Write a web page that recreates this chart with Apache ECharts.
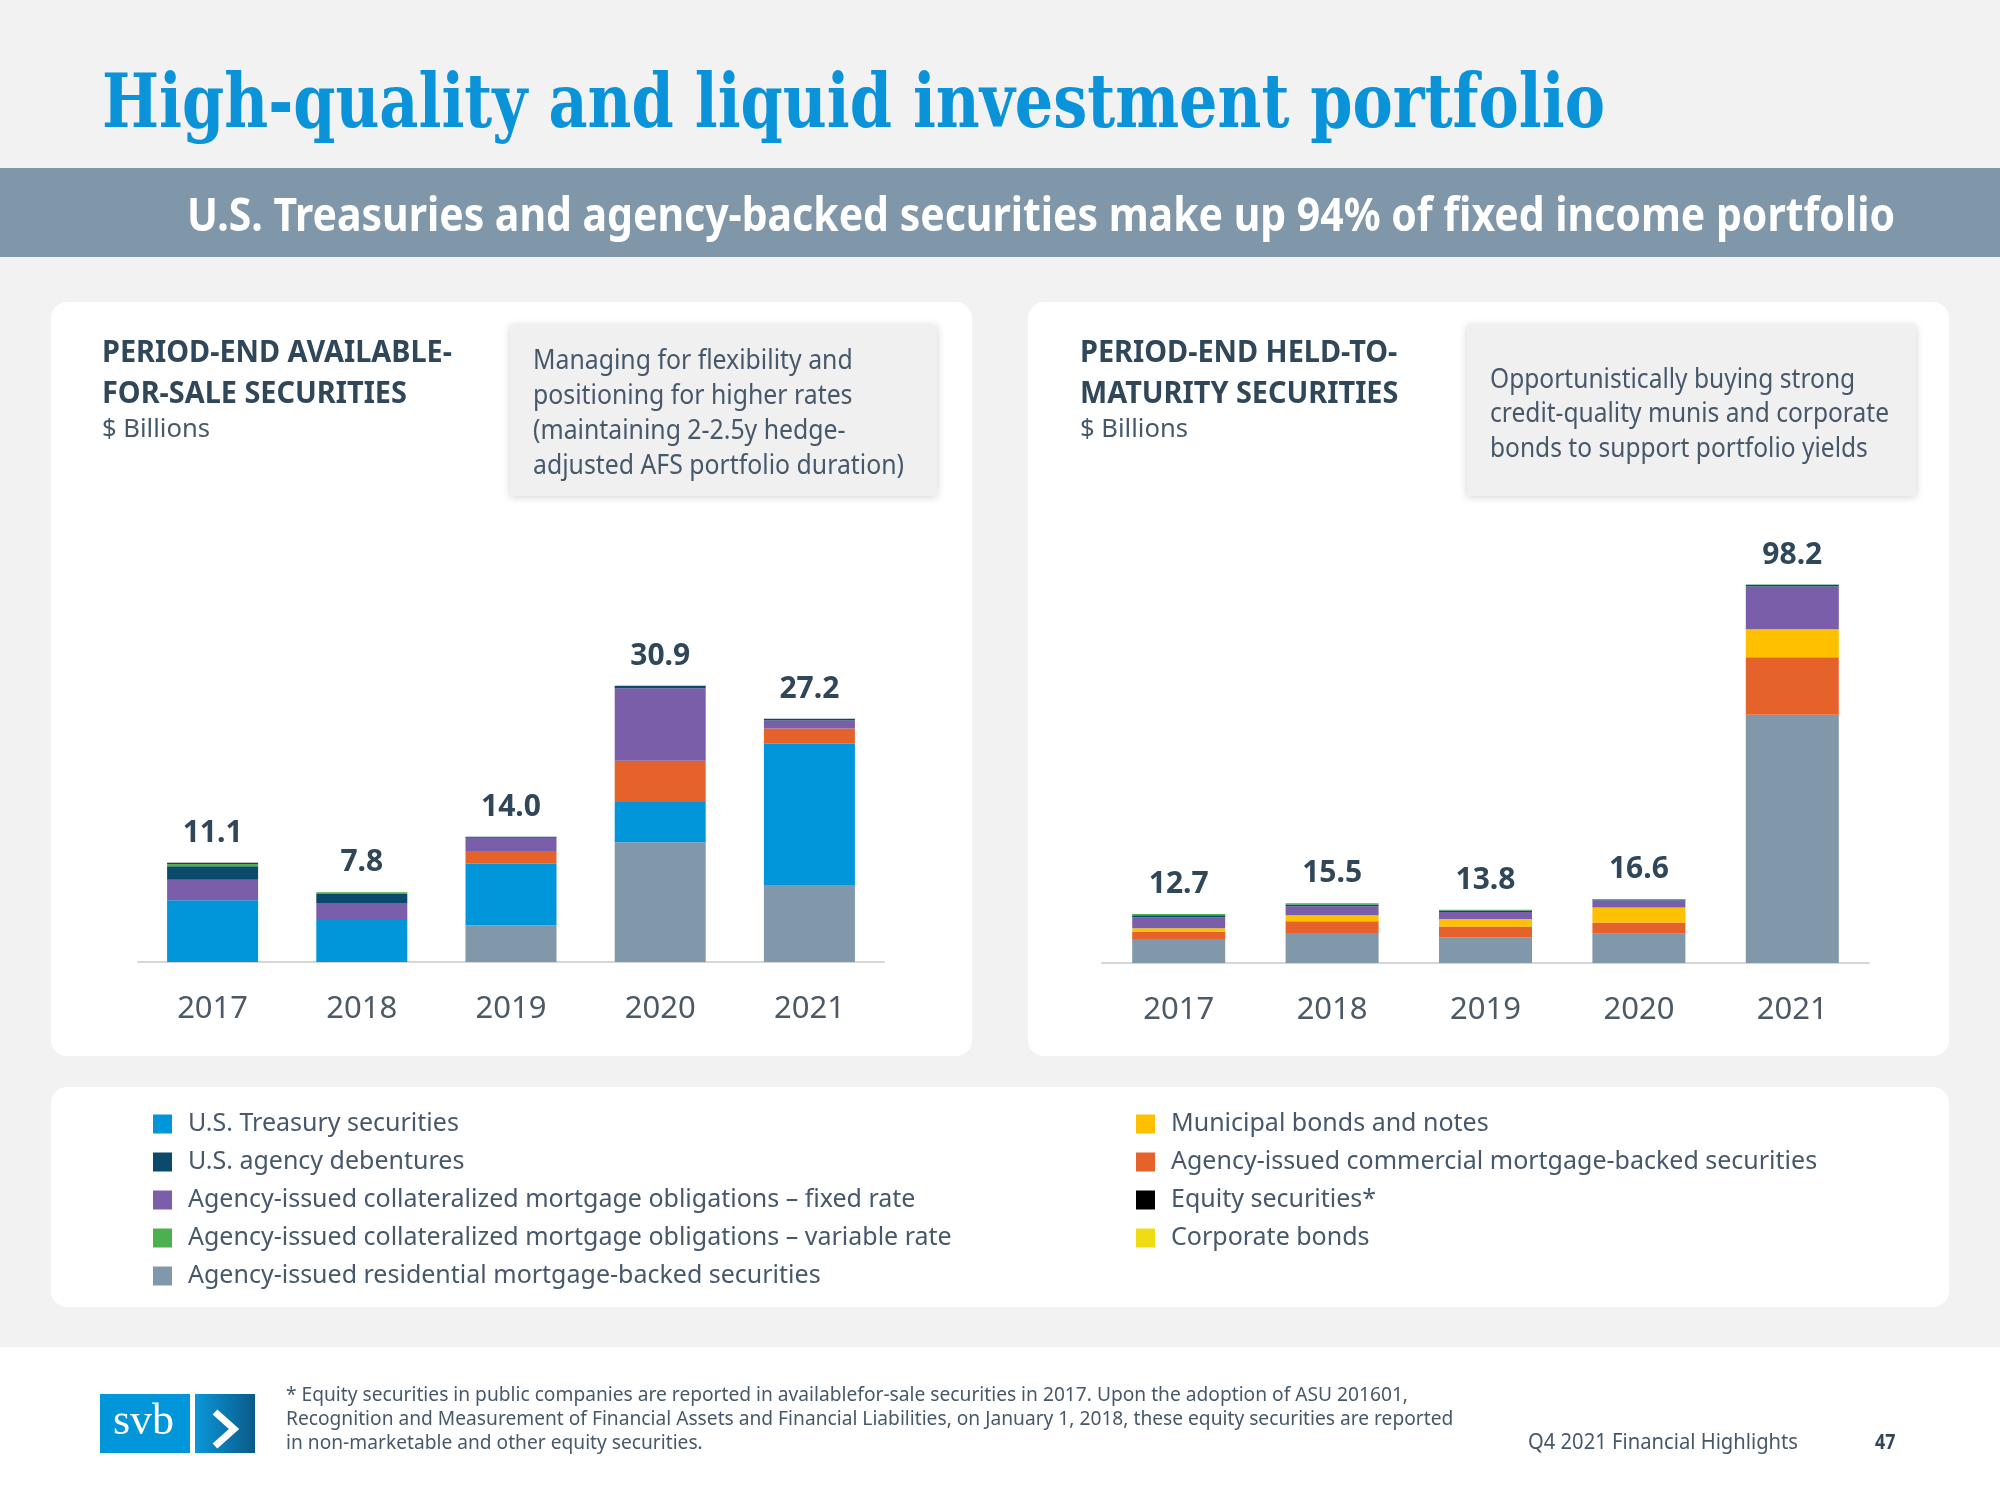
<!DOCTYPE html>
<html><head><meta charset="utf-8">
<script src="https://cdn.jsdelivr.net/npm/echarts@6/dist/echarts.min.js"></script>
<style>html,body{margin:0;padding:0;background:#f2f2f2}#chart{width:2000px;height:1500px}</style>
</head><body><div id="chart"></div>
<script>
// ---------- DATA ----------
const years = ['2017', '2018', '2019', '2020', '2021'];

// Period-end available-for-sale securities ($ billions)
const afsRMBS        = [0, 0, 4.1, 13.4, 8.6];
const afsTreasury    = [6.9, 4.7, 6.9, 4.5, 15.8];
const afsCMBS        = [0, 0, 1.4, 4.6, 1.7];
const afsCMOFixed    = [2.3, 1.9, 1.5, 8.1, 0.9];
const afsDebentures  = [1.5, 1.0, 0.1, 0.3, 0.2];
const afsCMOVariable = [0.3, 0.2, 0, 0, 0];
const afsEquity      = [0.1, 0, 0, 0, 0];
const afsTotals      = [11.1, 7.8, 14.0, 30.9, 27.2];

// Period-end held-to-maturity securities ($ billions)
const htmRMBS        = [6.2, 7.8, 6.7, 7.6, 64.4];
const htmCMBS        = [1.9, 3.0, 2.8, 2.9, 14.9];
const htmMuni        = [0.9, 1.6, 1.9, 3.9, 7.3];
const htmCorporate   = [0, 0, 0, 0, 0];
const htmCMOFixed    = [2.9, 2.3, 1.8, 1.8, 11.1];
const htmDebentures  = [0.5, 0.5, 0.4, 0.3, 0.4];
const htmCMOVariable = [0.3, 0.3, 0.2, 0.1, 0.1];
const htmTotals      = [12.7, 15.5, 13.8, 16.6, 98.2];

const N_TREAS = 'U.S. Treasury securities';
const N_DEB   = 'U.S. agency debentures';
const N_CMOF  = 'Agency-issued collateralized mortgage obligations \u2013 fixed rate';
const N_CMOV  = 'Agency-issued collateralized mortgage obligations \u2013 variable rate';
const N_RMBS  = 'Agency-issued residential mortgage-backed securities';
const N_MUNI  = 'Municipal bonds and notes';
const N_CMBS  = 'Agency-issued commercial mortgage-backed securities';
const N_EQ    = 'Equity securities*';
const N_CORP  = 'Corporate bonds';

// ---------- STYLE ----------
const C = {
  treas: '#0096d9', deb: '#0b4a6a', cmof: '#7b5ea9', cmov: '#4caf50',
  rmbs: '#8197aa', muni: '#ffc000', cmbs: '#e5632a', eq: '#000000', corp: '#f0dc14'
};
const DARK = '#30475a', BODY = '#46586a';

const mctx = document.createElement('canvas').getContext('2d');
function measure(text, font) { mctx.font = font; return mctx.measureText(text).width; }
function fontStr(size, weight, family) { return (weight || 'normal') + ' ' + size + 'px ' + family; }
function sxFor(text, size, weight, family, target) { return target / measure(text, fontStr(size, weight, family)); }
function T(text, x, baseline, size, weight, family, color, sx, mid) {
  const y = baseline - (mid || 0.36) * size;
  return {
    type: 'text', x: x, y: y, scaleX: sx || 1, scaleY: 1, z: 10,
    style: { text: text, x: 0, y: 0, fill: color, fontSize: size, fontWeight: weight || 'normal',
      fontFamily: family, textAlign: 'left', textVerticalAlign: 'middle', verticalAlign: 'middle' }
  };
}
const SANS = 'Noto Sans';

// scale factors
const sxTitle = sxFor('High-quality and liquid investment portfolio', 74, 'bold', 'DejaVu Serif', 1503);
const sxSub = sxFor('U.S. Treasuries and agency-backed securities make up 94% of fixed income portfolio', 46, 'bold', SANS, 1708);
const sxHead = sxFor('PERIOD-END AVAILABLE-', 31, 'bold', SANS, 350);
const sxBill = sxFor('$ Billions', 25, 'normal', SANS, 108);
const sxNoteL = sxFor('adjusted AFS portfolio duration)', 27, 'normal', SANS, 371);
const sxNoteR = sxFor('credit-quality munis and corporate', 27, 'normal', SANS, 399);
const sxFoot = sxFor('* Equity securities in public companies are reported in availablefor-sale securities in 2017. Upon the adoption of ASU 201601,', 20, 'normal', SANS, 1122);
const sxQ4 = sxFor('Q4 2021 Financial Highlights', 21, 'normal', SANS, 270);

const graphics = [
  // header band
  { type: 'rect', z: 0, shape: { x: 0, y: 168, width: 2000, height: 89 }, style: { fill: '#8097aa' } },
  // cards
  { type: 'rect', z: 0, shape: { x: 51, y: 302, width: 921, height: 754, r: 16 }, style: { fill: '#ffffff' } },
  { type: 'rect', z: 0, shape: { x: 1028, y: 302, width: 921, height: 754, r: 16 }, style: { fill: '#ffffff' } },
  { type: 'rect', z: 0, shape: { x: 51, y: 1087, width: 1898, height: 220, r: 16 }, style: { fill: '#ffffff' } },
  // footer band
  { type: 'rect', z: 0, shape: { x: 0, y: 1347, width: 2000, height: 153 }, style: { fill: '#ffffff' } },
  // annotation boxes
  { type: 'rect', z: 1, shape: { x: 510, y: 325, width: 427, height: 171 },
    style: { fill: '#f0f0f0', shadowBlur: 8, shadowColor: 'rgba(0,0,0,0.18)', shadowOffsetY: 1 } },
  { type: 'rect', z: 1, shape: { x: 1467, y: 325, width: 449, height: 171 },
    style: { fill: '#f0f0f0', shadowBlur: 8, shadowColor: 'rgba(0,0,0,0.18)', shadowOffsetY: 1 } },

  T('High-quality and liquid investment portfolio', 102, 134, 74, 'bold', 'DejaVu Serif', '#0a93d8', sxTitle, 0.35),
  T('U.S. Treasuries and agency-backed securities make up 94% of fixed income portfolio', 187, 234, 46, 'bold', SANS, '#ffffff', sxSub),

  T('PERIOD-END AVAILABLE-', 102, 364, 31, 'bold', SANS, DARK, sxHead),
  T('FOR-SALE SECURITIES', 102, 405, 31, 'bold', SANS, DARK, sxHead),
  T('$ Billions', 102, 439, 25, 'normal', SANS, BODY, sxBill),
  T('PERIOD-END HELD-TO-', 1080, 364, 31, 'bold', SANS, DARK, sxHead),
  T('MATURITY SECURITIES', 1080, 405, 31, 'bold', SANS, DARK, sxHead),
  T('$ Billions', 1080, 439, 25, 'normal', SANS, BODY, sxBill),

  T('Managing for flexibility and', 533, 371, 27, 'normal', SANS, BODY, sxNoteL),
  T('positioning for higher rates', 533, 406, 27, 'normal', SANS, BODY, sxNoteL),
  T('(maintaining 2-2.5y hedge-', 533, 441, 27, 'normal', SANS, BODY, sxNoteL),
  T('adjusted AFS portfolio duration)', 533, 476, 27, 'normal', SANS, BODY, sxNoteL),

  T('Opportunistically buying strong', 1490, 390, 27, 'normal', SANS, BODY, sxNoteR),
  T('credit-quality munis and corporate', 1490, 424, 27, 'normal', SANS, BODY, sxNoteR),
  T('bonds to support portfolio yields', 1490, 459, 27, 'normal', SANS, BODY, sxNoteR),

  // logo
  { type: 'rect', z: 5, shape: { x: 100, y: 1394, width: 90, height: 59 }, style: { fill: '#0096d9' } },
  { type: 'rect', z: 5, shape: { x: 195, y: 1394, width: 60, height: 59 },
    style: { fill: new echarts.graphic.LinearGradient(0, 0, 1, 0, [{ offset: 0, color: '#0a97d9' }, { offset: 1, color: '#0a5a88' }]) } },
  { type: 'polyline', z: 6, shape: { points: [[215, 1412], [234, 1429], [215, 1446]] },
    style: { stroke: '#ffffff', lineWidth: 7, fill: null } },
  T('svb', 113, 1437, 44, 'normal', 'Liberation Serif', '#ffffff', 1, 0.34),

  T('* Equity securities in public companies are reported in availablefor-sale securities in 2017. Upon the adoption of ASU 201601,', 286, 1402, 20, 'normal', SANS, BODY, sxFoot),
  T('Recognition and Measurement of Financial Assets and Financial Liabilities, on January 1, 2018, these equity securities are reported', 286, 1426, 20, 'normal', SANS, BODY, sxFoot),
  T('in non-marketable and other equity securities.', 286, 1450, 20, 'normal', SANS, BODY, sxFoot),
  T('Q4 2021 Financial Highlights', 1528, 1451, 21, 'normal', SANS, BODY, sxQ4),
  T('47', 1875, 1451, 21, 'bold', SANS, DARK, 0.85)
];

function bar(name, data, color, idx, width) {
  return {
    type: 'bar', name: name, data: data, stack: 'g' + idx, xAxisIndex: idx, yAxisIndex: idx,
    barWidth: width, itemStyle: { color: color }, z: 3, silent: true
  };
}
function totals(data, idx) {
  return {
    type: 'line', name: 'total' + idx, data: data, xAxisIndex: idx, yAxisIndex: idx,
    symbol: 'circle', symbolSize: 1, itemStyle: { color: 'transparent' },
    lineStyle: { width: 0, opacity: 0 }, silent: true, z: 5,
    label: { show: true, position: 'top', distance: 14, color: DARK, fontFamily: SANS,
      fontWeight: 'bold', fontSize: 30, formatter: p => Number(p.value).toFixed(1) }
  };
}

const axisLabel = { color: '#4b5a66', fontSize: 31, fontFamily: SANS, margin: 32 };
const legendText = { fontSize: 25, color: BODY, fontFamily: SANS, lineHeight: 26, padding: [0, 0, 0, 11] };
const option = {
  backgroundColor: '#f2f2f2',
  animation: false,
  graphic: { elements: graphics },
  grid: [
    { left: 138, width: 746, top: 649, bottom: 538 },
    { left: 1102, width: 767, top: 539, bottom: 537 }
  ],
  xAxis: [0, 1].map(i => ({
    type: 'category', gridIndex: i, data: years,
    axisLine: { lineStyle: { color: '#d6d6d6', width: 2 } }, axisTick: { show: false }, axisLabel: axisLabel
  })),
  yAxis: [
    { type: 'value', gridIndex: 0, min: 0, max: 35, show: false },
    { type: 'value', gridIndex: 1, min: 0, max: 110, show: false }
  ],
  legend: [
    { orient: 'vertical', left: 148, top: 1106, itemWidth: 19, itemHeight: 19, itemGap: 12, icon: 'rect',
      selectedMode: false, data: [N_TREAS, N_DEB, N_CMOF, N_CMOV, N_RMBS], textStyle: legendText },
    { orient: 'vertical', left: 1131, top: 1106, itemWidth: 19, itemHeight: 19, itemGap: 12, icon: 'rect',
      selectedMode: false, data: [N_MUNI, N_CMBS, N_EQ, N_CORP], textStyle: legendText }
  ],
  series: [
    bar(N_RMBS, afsRMBS, C.rmbs, 0, 91),
    bar(N_TREAS, afsTreasury, C.treas, 0, 91),
    bar(N_CMBS, afsCMBS, C.cmbs, 0, 91),
    bar(N_CMOF, afsCMOFixed, C.cmof, 0, 91),
    bar(N_DEB, afsDebentures, C.deb, 0, 91),
    bar(N_CMOV, afsCMOVariable, C.cmov, 0, 91),
    bar(N_EQ, afsEquity, C.eq, 0, 91),
    totals(afsTotals, 0),

    bar(N_RMBS, htmRMBS, C.rmbs, 1, 93),
    bar(N_CMBS, htmCMBS, C.cmbs, 1, 93),
    bar(N_MUNI, htmMuni, C.muni, 1, 93),
    bar(N_CORP, htmCorporate, C.corp, 1, 93),
    bar(N_CMOF, htmCMOFixed, C.cmof, 1, 93),
    bar(N_DEB, htmDebentures, C.deb, 1, 93),
    bar(N_CMOV, htmCMOVariable, C.cmov, 1, 93),
    totals(htmTotals, 1)
  ]
};
const chart = echarts.init(document.getElementById('chart'), null, { renderer: 'canvas' });
chart.setOption(option);
</script></body></html>
